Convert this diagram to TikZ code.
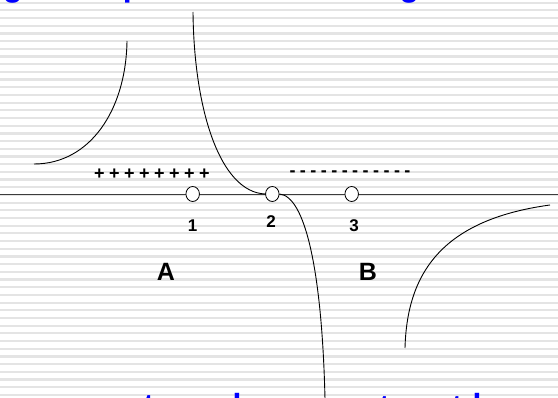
\documentclass[tikz,border=0pt]{standalone}
\usepackage{fontspec}
\setmainfont{Liberation Sans}
\usepackage{tikz}
\usetikzlibrary{shapes.geometric}
\definecolor{titleblue}{RGB}{0,0,255}
\definecolor{stripe}{RGB}{228,228,228}
\definecolor{axisgray}{RGB}{60,60,60}

\begin{document}
\begin{tikzpicture}[
  x=1pt,y=-1pt,
  charge/.style={ellipse,draw=black,fill=white,line width=0.8pt,
                 inner sep=0pt,minimum width=13.5pt,minimum height=15pt},
  num/.style={anchor=base,font=\bfseries\fontsize{17}{17}\selectfont},
  region/.style={anchor=base,font=\bfseries\fontsize{25}{25}\selectfont},
  sign/.style={anchor=base,inner sep=0pt,font=\bfseries\fontsize{18}{18}\selectfont},
  cut/.style={anchor=base,inner sep=0pt,text=titleblue,
              font=\bfseries\fontsize{32}{32}\selectfont},
  field/.style={line width=0.9pt}
]

  % Fond
  \useasboundingbox (0,0) rectangle (558,398);
  \clip (0,0) rectangle (558,398);
  \fill[white] (0,0) rectangle (558,398);
  \foreach \k in {0,...,51}
    \fill[stripe] (0,{2.7+7.69*\k-1.1}) rectangle (558,{2.7+7.69*\k+1.1});

  % Titre coupe
  \node[cut] (t1) at (13,-3.5) {g};
  \node[cut] (t2) at (132.7,-3) {p};
  \node[cut] (t3) at (409.5,-3.5) {g};
  \node[cut] (b1) at (148.6,417) {t};
  \node[cut] (b2) at (237,416.5) {l};
  \node[cut] (b3) at (384.5,418) {t};
  \node[cut] (b4) at (457,418) {t};
  \node[cut] (b5) at (482.4,416.5) {h};

  % Axe
  \coordinate (axl) at (0,194);
  \coordinate (axr) at (558,194);
  \draw[axisgray,line width=0.9pt] (axl) -- (axr);

  % Points
  \node[charge] (n1) at (192.7,194) {};
  \node[charge] (n2) at (272.3,194) {};
  \node[charge] (n3) at (351.7,194) {};
  \node[num] (l1) at (192.5,231.5) {1};
  \node[num] (l2) at (271,227.5) {2};
  \node[num] (l3) at (354,231.5) {3};

  % Charges
  \foreach \i in {0,...,7}
    \node[sign] (pl\i) at ({99.5+15*\i},179.5) {+};
  \foreach \i in {0,...,11}
    \node[sign] (mi\i) at ({292.5+10.45*\i},176.8) {-};

  % Regions
  \node[region] (ra) at (166,281) {A};
  \node[region] (rb) at (368,281) {B};

  % Courbes
  \coordinate (ctop) at (193,12);
  \coordinate (cbot) at (325,399);
  \draw[field] (ctop) .. controls (194,110) and (220,192) .. (n2.west);
  \draw[field] (n2.east) .. controls (305,196) and (322,270) .. (cbot);
  \draw[field] (34,164) .. controls (90,164) and (126,110) .. (127,41);
  \draw[field] (405,348) .. controls (407,275) and (440,220) .. (550,205);

\end{tikzpicture}
\end{document}
